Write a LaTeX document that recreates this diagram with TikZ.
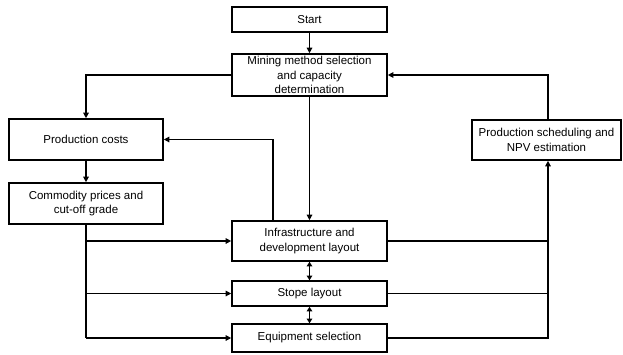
\documentclass[tikz,border=0pt]{standalone}
\usepackage{fontspec}
\setmainfont{Liberation Sans}
\usetikzlibrary{arrows.meta}
\begin{document}
\begin{tikzpicture}[x=1pt,y=-1pt,
  box/.style={draw, line width=1.6pt, inner sep=0pt, align=center,
    font=\fontsize{11.5}{14.5}\selectfont},
  conn/.style={line width=1.2pt, -{Triangle[length=5.5pt,width=5.5pt]}},
  dconn/.style={line width=1.2pt, {Triangle[length=4.5pt,width=5.5pt]}-{Triangle[length=4.5pt,width=5.5pt]}},
  plain/.style={line width=1.2pt}]
\useasboundingbox (0,0) rectangle (623,354);
\node[box, minimum width=155pt, minimum height=25pt] (start) at (309.5,19.5) {Start};
\node[box, minimum width=155pt, minimum height=42pt] (mining) at (309.5,75) {Mining method selection\\and capacity\\determination};
\node[box, minimum width=154pt, minimum height=41pt] (prod) at (86,139.5) {Production costs};
\node[box, minimum width=154pt, minimum height=41pt] (comm) at (86,203.5) {Commodity prices and\\cut-off grade};
\node[box, minimum width=155pt, minimum height=40pt] (infra) at (309.5,241) {Infrastructure and\\development layout};
\node[box, minimum width=155pt, minimum height=25pt] (stope) at (309.5,293.5) {Stope layout};
\node[box, minimum width=155pt, minimum height=28pt] (equip) at (309.5,338) {Equipment selection};
\node[box, minimum width=149pt, minimum height=40pt] (npv) at (546.5,140) {Production scheduling and\\NPV estimation};
\coordinate (rx) at (548,0);
\coordinate (fx) at (273,0);
\draw[conn] (start) -- (mining);
\draw[conn] (mining.west) -| (prod.north);
\draw[conn] (mining) -- (infra);
\draw[conn] (infra.north -| fx) |- (prod.east);
\draw[conn] (prod) -- (comm);
\draw[plain] (comm.south) -- (comm.south |- equip.west);
\draw[conn] (comm.south |- infra.west) -- (infra.west);
\draw[conn] (comm.south |- stope.west) -- (stope.west);
\draw[conn] (comm.south |- equip.west) -- (equip.west);
\draw[dconn] (infra) -- (stope);
\draw[dconn] (stope) -- (equip);
\draw[plain] (infra.east) -- (infra.east -| rx);
\draw[plain] (stope.east) -- (stope.east -| rx);
\draw[conn] (equip.east) -| (npv.south -| rx);
\draw[conn] (npv.north -| rx) |- (mining.east);
\end{tikzpicture}
\end{document}
